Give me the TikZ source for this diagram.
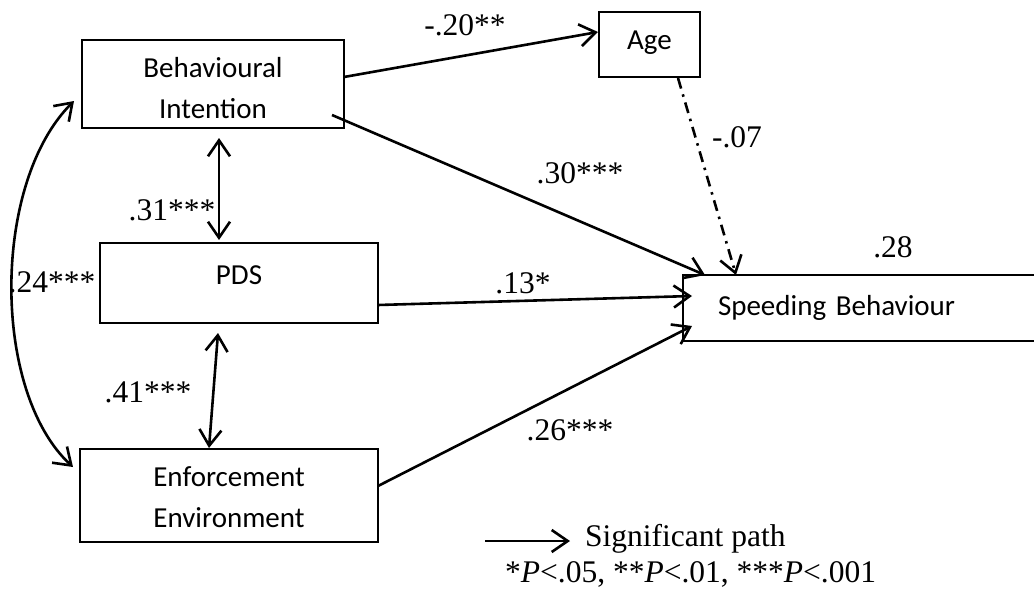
\documentclass[tikz,border=0pt]{standalone}
\usepackage{fontspec}
\setmainfont{Liberation Serif}
\newfontfamily\sbfont{Carlito}
\usetikzlibrary{arrows.meta,calc}
\tikzset{
  box/.style={draw, line width=2.2pt, font=\sbfont\fontsize{29}{41}\selectfont, inner sep=0pt, outer sep=0pt, align=center},
  lbl/.style={font=\fontsize{31.5}{36}\selectfont, inner sep=0pt},
  path1/.style={line width=2.6pt, -{Straight Barb[length=16pt,width=22pt]}},
  biarrow/.style={line width=2.6pt, {Straight Barb[length=16pt,width=22pt]}-{Straight Barb[length=16pt,width=22pt]}},
  nspath/.style={path1, dash pattern=on 11pt off 6pt on 2.5pt off 6pt},
}
\begin{document}
\begin{tikzpicture}[x=1pt,y=-1pt]
\useasboundingbox (0,0) rectangle (1034,589);
\fill[white] (0,0) rectangle (1034,589);

\node[box, minimum width=262pt, minimum height=88pt] (BI) at (213,84)
  {\raisebox{-6pt}[\height][\depth]{\begin{tabular}{@{}c@{}}Behavioural\\Intention\end{tabular}}};
\node[box, minimum width=278pt, minimum height=80pt] (PDS) at (239,283)
  {\raisebox{8pt}[\height][\depth]{PDS}};
\node[box, minimum width=298pt, minimum height=93pt] (EE) at (229,495.5)
  {\raisebox{-3pt}[\height][\depth]{\begin{tabular}{@{}c@{}}Enforcement\\Environment\end{tabular}}};
\node[box, minimum width=101pt, minimum height=65pt] (Age) at (649.5,44.5) {\raisebox{2pt}[\height][\depth]{Age}};
\node[box, anchor=north west, minimum height=66pt, text width=330pt, align=left, inner xsep=35pt] (SB) at (683,275) {Speeding Behaviour};

\draw[path1] ($(BI.north east)+(0,37)$) -- ($(Age.west)+(-1,-12.5)$);
\draw[path1] ($(BI.south east)+(-12,-13)$) -- ($(SB.north west)+(22,0)$);
\draw[nspath] ($(Age.south)+(28.5,1)$) -- ($(SB.north west)+(53,0)$);
\draw[path1] ($(PDS.south east)+(0,-18)$) -- ($(SB.north west)+(9,21)$);
\draw[path1] ($(EE.east)+(0,-9.5)$) -- ($(SB.north west)+(9,51)$);
\draw[biarrow] ($(BI.south)+(6,10)$) -- ($(PDS.north)+(-20,-3)$);
\draw[biarrow] ($(PDS.south)+(-21,10)$) -- ($(EE.north)+(-20,-1)$);
\draw[biarrow] ($(BI.west)+(-8,17)$) .. controls (-8.5,183) and (-8.5,392) .. ($(EE.west)+(-7,-28.5)$);

\node[lbl] (l20) at (465,25) {-.20**};
\node[lbl] (l07) at (737,137) {-.07};
\node[lbl] (l30) at (580,173) {.30***};
\node[lbl] (l13) at (523,283) {.13*};
\node[lbl] (l28) at (893,247) {.28};
\node[lbl] (l31) at (172,210) {.31***};
\node[lbl] (l24) at (52,282) {.24***};
\node[lbl] (l41) at (148,392) {.41***};
\node[lbl] (l26) at (570,430) {.26***};

\coordinate (legA) at (485,541);
\coordinate (legB) at (570,541);
\draw[path1] (legA) -- (legB);
\node[lbl, anchor=base west] (leg1) at (585,546) {Significant path};
\node[lbl, anchor=base west] (leg2) at (505,582) {*\textit{P}<.05, **\textit{P}<.01, ***\textit{P}<.001};
\end{tikzpicture}
\end{document}
